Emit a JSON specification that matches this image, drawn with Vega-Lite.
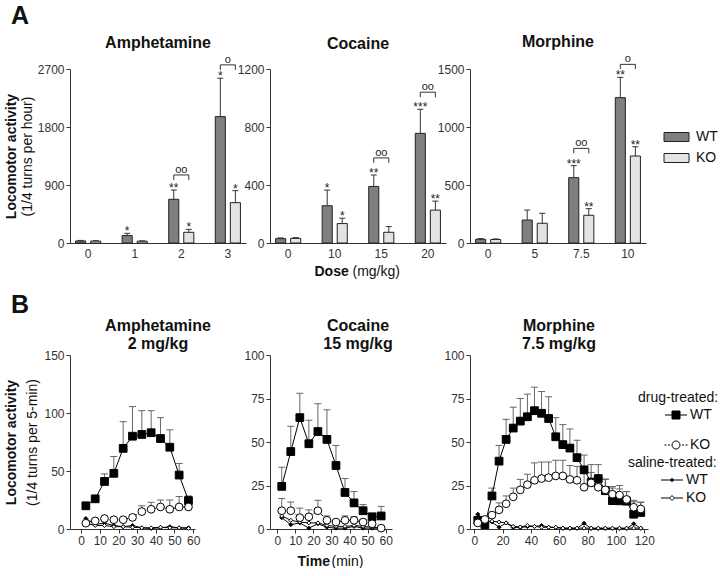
{
"$schema":"https://vega.github.io/schema/vega-lite/v6.json",
"background":"white",
"padding":{"left":4,"top":4,"right":0,"bottom":0},
"config":{"font":"Liberation Sans","view":{"stroke":null},
"axis":{"grid":false,"labelFontSize":12,"labelColor":"#333","titleColor":"#111","titleFontSize":14,"domainColor":"#333","tickColor":"#333","tickSize":4,"labelPadding":2},
"title":{"fontSize":16,"fontWeight":"bold","color":"#111"},
"legend":{"labelFontSize":14,"labelColor":"#111","titleFontSize":14,"titleFontWeight":"normal","titleColor":"#111","padding":0}},
"datasets":{
"bars":[
{"d":"Amph","dose":"0","g":"WT","v":32,"e":40,"sig":""},
{"d":"Amph","dose":"0","g":"KO","v":30,"e":36,"sig":""},
{"d":"Amph","dose":"1","g":"WT","v":115,"e":150,"sig":"*"},
{"d":"Amph","dose":"1","g":"KO","v":28,"e":33,"sig":""},
{"d":"Amph","dose":"2","g":"WT","v":678,"e":822,"sig":"**"},
{"d":"Amph","dose":"2","g":"KO","v":166,"e":212,"sig":"*"},
{"d":"Amph","dose":"3","g":"WT","v":1961,"e":2557,"sig":"*"},
{"d":"Amph","dose":"3","g":"KO","v":626,"e":812,"sig":"*"},
{"d":"Coc","dose":"0","g":"WT","v":30,"e":35,"sig":""},
{"d":"Coc","dose":"0","g":"KO","v":32,"e":37,"sig":""},
{"d":"Coc","dose":"10","g":"WT","v":257,"e":365,"sig":"*"},
{"d":"Coc","dose":"10","g":"KO","v":134,"e":171,"sig":"*"},
{"d":"Coc","dose":"15","g":"WT","v":390,"e":469,"sig":"**"},
{"d":"Coc","dose":"15","g":"KO","v":74,"e":113,"sig":""},
{"d":"Coc","dose":"20","g":"WT","v":756,"e":922,"sig":"***"},
{"d":"Coc","dose":"20","g":"KO","v":227,"e":289,"sig":"**"},
{"d":"Morph","dose":"0","g":"WT","v":32,"e":38,"sig":""},
{"d":"Morph","dose":"0","g":"KO","v":30,"e":35,"sig":""},
{"d":"Morph","dose":"5","g":"WT","v":198,"e":284,"sig":""},
{"d":"Morph","dose":"5","g":"KO","v":170,"e":256,"sig":""},
{"d":"Morph","dose":"7.5","g":"WT","v":563,"e":667,"sig":"***"},
{"d":"Morph","dose":"7.5","g":"KO","v":239,"e":296,"sig":"**"},
{"d":"Morph","dose":"10","g":"WT","v":1253,"e":1428,"sig":"**"},
{"d":"Morph","dose":"10","g":"KO","v":750,"e":830,"sig":"**"}
],
"brk":[
{"d":"Amph","dose":"2","g":"WT","y":978,"o":1},{"d":"Amph","dose":"2","g":"WT","y":1056,"o":2},{"d":"Amph","dose":"2","g":"KO","y":1056,"o":3},{"d":"Amph","dose":"2","g":"KO","y":978,"o":4},
{"d":"Amph","dose":"3","g":"WT","y":2686,"o":1},{"d":"Amph","dose":"3","g":"WT","y":2764,"o":2},{"d":"Amph","dose":"3","g":"KO","y":2764,"o":3},{"d":"Amph","dose":"3","g":"KO","y":2686,"o":4},
{"d":"Coc","dose":"15","g":"WT","y":553,"o":1},{"d":"Coc","dose":"15","g":"WT","y":587,"o":2},{"d":"Coc","dose":"15","g":"KO","y":587,"o":3},{"d":"Coc","dose":"15","g":"KO","y":553,"o":4},
{"d":"Coc","dose":"20","g":"WT","y":1005,"o":1},{"d":"Coc","dose":"20","g":"WT","y":1040,"o":2},{"d":"Coc","dose":"20","g":"KO","y":1040,"o":3},{"d":"Coc","dose":"20","g":"KO","y":1005,"o":4},
{"d":"Morph","dose":"7.5","g":"WT","y":773,"o":1},{"d":"Morph","dose":"7.5","g":"WT","y":816,"o":2},{"d":"Morph","dose":"7.5","g":"KO","y":816,"o":3},{"d":"Morph","dose":"7.5","g":"KO","y":773,"o":4},
{"d":"Morph","dose":"10","g":"WT","y":1500,"o":1},{"d":"Morph","dose":"10","g":"WT","y":1540,"o":2},{"d":"Morph","dose":"10","g":"KO","y":1540,"o":3},{"d":"Morph","dose":"10","g":"KO","y":1500,"o":4}
],
"brl":[
{"d":"Amph","dose":"2","y":1056,"lab":"oo"},{"d":"Amph","dose":"3","y":2764,"lab":"o"},
{"d":"Coc","dose":"15","y":587,"lab":"oo"},{"d":"Coc","dose":"20","y":1040,"lab":"oo"},
{"d":"Morph","dose":"7.5","y":816,"lab":"oo"},{"d":"Morph","dose":"10","y":1540,"lab":"o"}
],
"tc":[
{"d":"Amph","t":2.5,"s":"dWT","g":"WT","v":20,"e":22},{"d":"Amph","t":7.5,"s":"dWT","g":"WT","v":26,"e":28},{"d":"Amph","t":12.5,"s":"dWT","g":"WT","v":41,"e":47.5},{"d":"Amph","t":17.5,"s":"dWT","g":"WT","v":48,"e":62.5},{"d":"Amph","t":22.5,"s":"dWT","g":"WT","v":69.5,"e":92.5},{"d":"Amph","t":27.5,"s":"dWT","g":"WT","v":80,"e":105.5},{"d":"Amph","t":32.5,"s":"dWT","g":"WT","v":81.5,"e":102},{"d":"Amph","t":37.5,"s":"dWT","g":"WT","v":83,"e":102},{"d":"Amph","t":42.5,"s":"dWT","g":"WT","v":78,"e":96},{"d":"Amph","t":47.5,"s":"dWT","g":"WT","v":70.5,"e":85.5},{"d":"Amph","t":52.5,"s":"dWT","g":"WT","v":46.5,"e":56.5},{"d":"Amph","t":57.5,"s":"dWT","g":"WT","v":24.5,"e":28.5},
{"d":"Amph","t":2.5,"s":"dKO","g":"KO","v":5,"e":6},{"d":"Amph","t":7.5,"s":"dKO","g":"KO","v":7,"e":8},{"d":"Amph","t":12.5,"s":"dKO","g":"KO","v":9,"e":10},{"d":"Amph","t":17.5,"s":"dKO","g":"KO","v":8,"e":9},{"d":"Amph","t":22.5,"s":"dKO","g":"KO","v":8,"e":9},{"d":"Amph","t":27.5,"s":"dKO","g":"KO","v":10,"e":12},{"d":"Amph","t":32.5,"s":"dKO","g":"KO","v":15,"e":20},{"d":"Amph","t":37.5,"s":"dKO","g":"KO","v":17,"e":23},{"d":"Amph","t":42.5,"s":"dKO","g":"KO","v":19,"e":25},{"d":"Amph","t":47.5,"s":"dKO","g":"KO","v":17,"e":25},{"d":"Amph","t":52.5,"s":"dKO","g":"KO","v":19,"e":28},{"d":"Amph","t":57.5,"s":"dKO","g":"KO","v":19,"e":28},
{"d":"Amph","t":2.5,"s":"sWT","g":"WT","v":9},{"d":"Amph","t":7.5,"s":"sWT","g":"WT","v":4},{"d":"Amph","t":12.5,"s":"sWT","g":"WT","v":5},{"d":"Amph","t":17.5,"s":"sWT","g":"WT","v":3},{"d":"Amph","t":22.5,"s":"sWT","g":"WT","v":2},{"d":"Amph","t":27.5,"s":"sWT","g":"WT","v":3},{"d":"Amph","t":32.5,"s":"sWT","g":"WT","v":1},{"d":"Amph","t":37.5,"s":"sWT","g":"WT","v":0.5},{"d":"Amph","t":42.5,"s":"sWT","g":"WT","v":1},{"d":"Amph","t":47.5,"s":"sWT","g":"WT","v":2},{"d":"Amph","t":52.5,"s":"sWT","g":"WT","v":1},{"d":"Amph","t":57.5,"s":"sWT","g":"WT","v":1},
{"d":"Amph","t":2.5,"s":"sKO","g":"KO","v":5},{"d":"Amph","t":7.5,"s":"sKO","g":"KO","v":3},{"d":"Amph","t":12.5,"s":"sKO","g":"KO","v":3},{"d":"Amph","t":17.5,"s":"sKO","g":"KO","v":2},{"d":"Amph","t":22.5,"s":"sKO","g":"KO","v":2},{"d":"Amph","t":27.5,"s":"sKO","g":"KO","v":1.5},{"d":"Amph","t":32.5,"s":"sKO","g":"KO","v":1},{"d":"Amph","t":37.5,"s":"sKO","g":"KO","v":1},{"d":"Amph","t":42.5,"s":"sKO","g":"KO","v":1.5},{"d":"Amph","t":47.5,"s":"sKO","g":"KO","v":1},{"d":"Amph","t":52.5,"s":"sKO","g":"KO","v":1},{"d":"Amph","t":57.5,"s":"sKO","g":"KO","v":0.5},
{"d":"Coc","t":2.5,"s":"dWT","g":"WT","v":24.5,"e":35.5},{"d":"Coc","t":7.5,"s":"dWT","g":"WT","v":44.5,"e":59},{"d":"Coc","t":12.5,"s":"dWT","g":"WT","v":64,"e":78},{"d":"Coc","t":17.5,"s":"dWT","g":"WT","v":49,"e":62.5},{"d":"Coc","t":22.5,"s":"dWT","g":"WT","v":56,"e":72},{"d":"Coc","t":27.5,"s":"dWT","g":"WT","v":51.5,"e":68.5},{"d":"Coc","t":32.5,"s":"dWT","g":"WT","v":36.5,"e":48},{"d":"Coc","t":37.5,"s":"dWT","g":"WT","v":21,"e":29},{"d":"Coc","t":42.5,"s":"dWT","g":"WT","v":15,"e":21.5},{"d":"Coc","t":47.5,"s":"dWT","g":"WT","v":10.5,"e":14},{"d":"Coc","t":52.5,"s":"dWT","g":"WT","v":7,"e":9},{"d":"Coc","t":57.5,"s":"dWT","g":"WT","v":7.5,"e":13},
{"d":"Coc","t":2.5,"s":"dKO","g":"KO","v":10.5,"e":17.5},{"d":"Coc","t":7.5,"s":"dKO","g":"KO","v":10.5,"e":15.5},{"d":"Coc","t":12.5,"s":"dKO","g":"KO","v":6.5,"e":12},{"d":"Coc","t":17.5,"s":"dKO","g":"KO","v":7,"e":11},{"d":"Coc","t":22.5,"s":"dKO","g":"KO","v":10.5,"e":16.5},{"d":"Coc","t":27.5,"s":"dKO","g":"KO","v":5,"e":7.5},{"d":"Coc","t":32.5,"s":"dKO","g":"KO","v":4,"e":4.5},{"d":"Coc","t":37.5,"s":"dKO","g":"KO","v":5,"e":7.5},{"d":"Coc","t":42.5,"s":"dKO","g":"KO","v":5,"e":7},{"d":"Coc","t":47.5,"s":"dKO","g":"KO","v":4,"e":5.5},{"d":"Coc","t":52.5,"s":"dKO","g":"KO","v":3,"e":4},{"d":"Coc","t":57.5,"s":"dKO","g":"KO","v":0.5,"e":1},
{"d":"Coc","t":2.5,"s":"sWT","g":"WT","v":6.5},{"d":"Coc","t":7.5,"s":"sWT","g":"WT","v":2.5},{"d":"Coc","t":12.5,"s":"sWT","g":"WT","v":3.5},{"d":"Coc","t":17.5,"s":"sWT","g":"WT","v":0.5},{"d":"Coc","t":22.5,"s":"sWT","g":"WT","v":3},{"d":"Coc","t":27.5,"s":"sWT","g":"WT","v":1},{"d":"Coc","t":32.5,"s":"sWT","g":"WT","v":0.5},{"d":"Coc","t":37.5,"s":"sWT","g":"WT","v":0.5},{"d":"Coc","t":42.5,"s":"sWT","g":"WT","v":1.5},{"d":"Coc","t":47.5,"s":"sWT","g":"WT","v":0.5},{"d":"Coc","t":52.5,"s":"sWT","g":"WT","v":0.5},{"d":"Coc","t":57.5,"s":"sWT","g":"WT","v":0.5},
{"d":"Coc","t":2.5,"s":"sKO","g":"KO","v":7.5},{"d":"Coc","t":7.5,"s":"sKO","g":"KO","v":5},{"d":"Coc","t":12.5,"s":"sKO","g":"KO","v":4},{"d":"Coc","t":17.5,"s":"sKO","g":"KO","v":3.5},{"d":"Coc","t":22.5,"s":"sKO","g":"KO","v":3.5},{"d":"Coc","t":27.5,"s":"sKO","g":"KO","v":2},{"d":"Coc","t":32.5,"s":"sKO","g":"KO","v":1.5},{"d":"Coc","t":37.5,"s":"sKO","g":"KO","v":1.5},{"d":"Coc","t":42.5,"s":"sKO","g":"KO","v":2},{"d":"Coc","t":47.5,"s":"sKO","g":"KO","v":1.5},{"d":"Coc","t":52.5,"s":"sKO","g":"KO","v":1},{"d":"Coc","t":57.5,"s":"sKO","g":"KO","v":0.5},
{"d":"Morph","t":2.5,"s":"dWT","g":"WT","v":5,"e":7},{"d":"Morph","t":7.5,"s":"dWT","g":"WT","v":2.5,"e":4},{"d":"Morph","t":12.5,"s":"dWT","g":"WT","v":19,"e":23.5},{"d":"Morph","t":17.5,"s":"dWT","g":"WT","v":39,"e":48},{"d":"Morph","t":22.5,"s":"dWT","g":"WT","v":51.5,"e":63},{"d":"Morph","t":27.5,"s":"dWT","g":"WT","v":58,"e":70},{"d":"Morph","t":32.5,"s":"dWT","g":"WT","v":62,"e":75},{"d":"Morph","t":37.5,"s":"dWT","g":"WT","v":64.5,"e":77.5},{"d":"Morph","t":42.5,"s":"dWT","g":"WT","v":68,"e":81.5},{"d":"Morph","t":47.5,"s":"dWT","g":"WT","v":66.5,"e":79},{"d":"Morph","t":52.5,"s":"dWT","g":"WT","v":63.5,"e":76},{"d":"Morph","t":57.5,"s":"dWT","g":"WT","v":53,"e":64},{"d":"Morph","t":62.5,"s":"dWT","g":"WT","v":48.5,"e":60},{"d":"Morph","t":67.5,"s":"dWT","g":"WT","v":46.5,"e":57.5},{"d":"Morph","t":72.5,"s":"dWT","g":"WT","v":41,"e":51},{"d":"Morph","t":77.5,"s":"dWT","g":"WT","v":34,"e":42.5},{"d":"Morph","t":82.5,"s":"dWT","g":"WT","v":27,"e":37},{"d":"Morph","t":87.5,"s":"dWT","g":"WT","v":29,"e":37},{"d":"Morph","t":92.5,"s":"dWT","g":"WT","v":22,"e":28.7},{"d":"Morph","t":97.5,"s":"dWT","g":"WT","v":16.3,"e":24.4},{"d":"Morph","t":102.5,"s":"dWT","g":"WT","v":16.2,"e":23},{"d":"Morph","t":107.5,"s":"dWT","g":"WT","v":16,"e":21.5},{"d":"Morph","t":112.5,"s":"dWT","g":"WT","v":8.5,"e":15.7},{"d":"Morph","t":117.5,"s":"dWT","g":"WT","v":9.5,"e":15.2},
{"d":"Morph","t":2.5,"s":"dKO","g":"KO","v":3.5,"e":4},{"d":"Morph","t":7.5,"s":"dKO","g":"KO","v":5.5,"e":6},{"d":"Morph","t":12.5,"s":"dKO","g":"KO","v":8,"e":9},{"d":"Morph","t":17.5,"s":"dKO","g":"KO","v":11,"e":15},{"d":"Morph","t":22.5,"s":"dKO","g":"KO","v":14.5,"e":19},{"d":"Morph","t":27.5,"s":"dKO","g":"KO","v":18.5,"e":23.5},{"d":"Morph","t":32.5,"s":"dKO","g":"KO","v":22.5,"e":28.5},{"d":"Morph","t":37.5,"s":"dKO","g":"KO","v":25.5,"e":31.5},{"d":"Morph","t":42.5,"s":"dKO","g":"KO","v":28,"e":38},{"d":"Morph","t":47.5,"s":"dKO","g":"KO","v":29,"e":38.5},{"d":"Morph","t":52.5,"s":"dKO","g":"KO","v":29.5,"e":38.5},{"d":"Morph","t":57.5,"s":"dKO","g":"KO","v":30.5,"e":39.5},{"d":"Morph","t":62.5,"s":"dKO","g":"KO","v":30.5,"e":39.5},{"d":"Morph","t":67.5,"s":"dKO","g":"KO","v":28.5,"e":36.5},{"d":"Morph","t":72.5,"s":"dKO","g":"KO","v":28,"e":36},{"d":"Morph","t":77.5,"s":"dKO","g":"KO","v":24,"e":32},{"d":"Morph","t":82.5,"s":"dKO","g":"KO","v":26.5,"e":32.5},{"d":"Morph","t":87.5,"s":"dKO","g":"KO","v":24,"e":30.5},{"d":"Morph","t":92.5,"s":"dKO","g":"KO","v":22.5,"e":28.5},{"d":"Morph","t":97.5,"s":"dKO","g":"KO","v":20,"e":23.5},{"d":"Morph","t":102.5,"s":"dKO","g":"KO","v":19.5,"e":25},{"d":"Morph","t":107.5,"s":"dKO","g":"KO","v":17,"e":21.5},{"d":"Morph","t":112.5,"s":"dKO","g":"KO","v":12.5,"e":16.5},{"d":"Morph","t":117.5,"s":"dKO","g":"KO","v":11.5,"e":15.5},
{"d":"Morph","t":2.5,"s":"sWT","g":"WT","v":8.5},{"d":"Morph","t":7.5,"s":"sWT","g":"WT","v":5},{"d":"Morph","t":12.5,"s":"sWT","g":"WT","v":4},{"d":"Morph","t":17.5,"s":"sWT","g":"WT","v":1},{"d":"Morph","t":22.5,"s":"sWT","g":"WT","v":3.5},{"d":"Morph","t":27.5,"s":"sWT","g":"WT","v":0.8},{"d":"Morph","t":32.5,"s":"sWT","g":"WT","v":0.8},{"d":"Morph","t":37.5,"s":"sWT","g":"WT","v":1.4},{"d":"Morph","t":42.5,"s":"sWT","g":"WT","v":1.4},{"d":"Morph","t":47.5,"s":"sWT","g":"WT","v":2},{"d":"Morph","t":52.5,"s":"sWT","g":"WT","v":1},{"d":"Morph","t":57.5,"s":"sWT","g":"WT","v":0.8},{"d":"Morph","t":62.5,"s":"sWT","g":"WT","v":0.4},{"d":"Morph","t":67.5,"s":"sWT","g":"WT","v":0.4},{"d":"Morph","t":72.5,"s":"sWT","g":"WT","v":0.4},{"d":"Morph","t":77.5,"s":"sWT","g":"WT","v":3.3},{"d":"Morph","t":82.5,"s":"sWT","g":"WT","v":0.3},{"d":"Morph","t":87.5,"s":"sWT","g":"WT","v":0.3},{"d":"Morph","t":92.5,"s":"sWT","g":"WT","v":0.3},{"d":"Morph","t":97.5,"s":"sWT","g":"WT","v":0.3},{"d":"Morph","t":102.5,"s":"sWT","g":"WT","v":0.3},{"d":"Morph","t":107.5,"s":"sWT","g":"WT","v":0.3},{"d":"Morph","t":112.5,"s":"sWT","g":"WT","v":3},{"d":"Morph","t":117.5,"s":"sWT","g":"WT","v":0.4},
{"d":"Morph","t":2.5,"s":"sKO","g":"KO","v":4},{"d":"Morph","t":7.5,"s":"sKO","g":"KO","v":4},{"d":"Morph","t":12.5,"s":"sKO","g":"KO","v":4.5},{"d":"Morph","t":17.5,"s":"sKO","g":"KO","v":4},{"d":"Morph","t":22.5,"s":"sKO","g":"KO","v":3.5},{"d":"Morph","t":27.5,"s":"sKO","g":"KO","v":1.5},{"d":"Morph","t":32.5,"s":"sKO","g":"KO","v":1.2},{"d":"Morph","t":37.5,"s":"sKO","g":"KO","v":2},{"d":"Morph","t":42.5,"s":"sKO","g":"KO","v":1.5},{"d":"Morph","t":47.5,"s":"sKO","g":"KO","v":1},{"d":"Morph","t":52.5,"s":"sKO","g":"KO","v":1},{"d":"Morph","t":57.5,"s":"sKO","g":"KO","v":1},{"d":"Morph","t":62.5,"s":"sKO","g":"KO","v":0.5},{"d":"Morph","t":67.5,"s":"sKO","g":"KO","v":0.5},{"d":"Morph","t":72.5,"s":"sKO","g":"KO","v":0.5},{"d":"Morph","t":77.5,"s":"sKO","g":"KO","v":0.5},{"d":"Morph","t":82.5,"s":"sKO","g":"KO","v":0.5},{"d":"Morph","t":87.5,"s":"sKO","g":"KO","v":0.5},{"d":"Morph","t":92.5,"s":"sKO","g":"KO","v":0.5},{"d":"Morph","t":97.5,"s":"sKO","g":"KO","v":0.5},{"d":"Morph","t":102.5,"s":"sKO","g":"KO","v":0.5},{"d":"Morph","t":107.5,"s":"sKO","g":"KO","v":0.5},{"d":"Morph","t":112.5,"s":"sKO","g":"KO","v":0.5},{"d":"Morph","t":117.5,"s":"sKO","g":"KO","v":0.5}
]},
"vconcat":[
{"title":{"text":"A","anchor":"start","fontSize":25,"fontWeight":"bold","offset":5,"frame":"bounds","dx":7},
"hconcat":[
{"width":176,"height":174,"title":{"text":"Amphetamine","offset":3},
"layer":[
{"data":{"name":"bars"},"transform":[{"filter":"datum.d==='Amph'"}],"mark":{"type":"bar","stroke":"#222","strokeWidth":1},
"encoding":{"x":{"field":"dose","type":"nominal","scale":{"domain":["0","1","2","3"],"paddingInner":0.46,"paddingOuter":0.12},"axis":{"title":null,"labelAngle":0,"ticks":false,"labelPadding":5}},
"xOffset":{"field":"g","type":"nominal","scale":{"domain":["WT","KO"],"paddingInner":0.33,"paddingOuter":0}},
"y":{"field":"v","type":"quantitative","stack":null,"scale":{"domain":[0,2700],"nice":false},"axis":{"values":[0,900,1800,2700],"format":"d","title":"(1/4 turns per hour)","titleFontWeight":"normal","titlePadding":3}},
"fill":{"field":"g","type":"nominal","scale":{"domain":["WT","KO"],"range":["#7f7f7f","#e3e3e3"]},"legend":{"title":null,"orient":"none","legendX":592,"legendY":61,"symbolType":"M-2.5,-0.9H2.5V0.9H-2.5Z","symbolSize":100,"symbolOffset":7.5,"labelOffset":12.5,"rowPadding":7,"symbolStrokeColor":"#222","symbolStrokeWidth":1,"symbolOpacity":1}}}},
{"data":{"name":"bars"},"transform":[{"filter":"datum.d==='Amph'"}],"mark":{"type":"rule","color":"#333"},
"encoding":{"x":{"field":"dose","type":"nominal","axis":null},"xOffset":{"field":"g","type":"nominal"},"y":{"field":"v","type":"quantitative","axis":{"orient":"left","title":"Locomotor activity","labels":false,"ticks":false,"domain":false,"titlePadding":52,"titleFontWeight":"bold"}},"y2":{"field":"e"}}},
{"data":{"name":"bars"},"transform":[{"filter":"datum.d==='Amph'"}],"mark":{"type":"point","shape":"stroke","size":36,"color":"#333","filled":false,"opacity":1,"strokeWidth":1},
"encoding":{"x":{"field":"dose","type":"nominal","axis":null},"xOffset":{"field":"g","type":"nominal"},"y":{"field":"e","type":"quantitative","axis":null}}},
{"data":{"name":"bars"},"transform":[{"filter":"datum.d==='Amph'"}],"mark":{"type":"text","fontSize":12,"baseline":"alphabetic","dy":2,"fill":"#222"},
"encoding":{"x":{"field":"dose","type":"nominal","axis":null},"xOffset":{"field":"g","type":"nominal"},"y":{"field":"e","type":"quantitative","axis":null},"text":{"field":"sig"}}},
{"data":{"name":"brk"},"transform":[{"filter":"datum.d==='Amph'"}],"mark":{"type":"line","color":"#333","strokeWidth":1},
"encoding":{"x":{"field":"dose","type":"nominal","axis":null},"xOffset":{"field":"g","type":"nominal"},"y":{"field":"y","type":"quantitative","axis":null},"order":{"field":"o","type":"quantitative"},"detail":{"field":"dose"}}},
{"data":{"name":"brl"},"transform":[{"filter":"datum.d==='Amph'"}],"mark":{"type":"text","fontSize":11,"baseline":"alphabetic","dy":-2,"fill":"#222"},
"encoding":{"x":{"field":"dose","type":"nominal","axis":null},"y":{"field":"y","type":"quantitative","axis":null},"text":{"field":"lab"}}}
],
"resolve":{"axis":{"x":"independent","y":"independent"}}},
{"width":176,"height":174,"title":{"text":"Cocaine","offset":11},
"layer":[
{"data":{"name":"bars"},"transform":[{"filter":"datum.d==='Coc'"}],"mark":{"type":"bar","stroke":"#222","strokeWidth":1},
"encoding":{"x":{"field":"dose","type":"nominal","scale":{"domain":["0","10","15","20"],"paddingInner":0.46,"paddingOuter":0.12},"axis":{"title":"Dose","titleFontWeight":"bold","titleX":44,"titleY":21,"titleAlign":"left","titleBaseline":"top","labelAngle":0,"ticks":false,"labelPadding":5}},
"xOffset":{"field":"g","type":"nominal","scale":{"domain":["WT","KO"],"paddingInner":0.33,"paddingOuter":0}},
"y":{"field":"v","type":"quantitative","stack":null,"scale":{"domain":[0,1200],"nice":false},"axis":{"values":[0,400,800,1200],"format":"d","title":null}},
"fill":{"field":"g","type":"nominal","scale":{"domain":["WT","KO"],"range":["#7f7f7f","#e3e3e3"]},"legend":{"title":null,"orient":"none","legendX":592,"legendY":61,"symbolType":"M-2.5,-0.9H2.5V0.9H-2.5Z","symbolSize":100,"symbolOffset":7.5,"labelOffset":12.5,"rowPadding":7,"symbolStrokeColor":"#222","symbolStrokeWidth":1,"symbolOpacity":1}}}},
{"data":{"name":"bars"},"transform":[{"filter":"datum.d==='Coc'"}],"mark":{"type":"rule","color":"#333"},
"encoding":{"x":{"field":"dose","type":"nominal","axis":{"orient":"bottom","title":"(mg/kg)","titleFontWeight":"normal","titleX":82,"titleY":21,"titleAlign":"left","titleBaseline":"top","labels":false,"ticks":false,"domain":false}},"xOffset":{"field":"g","type":"nominal"},"y":{"field":"v","type":"quantitative","axis":null},"y2":{"field":"e"}}},
{"data":{"name":"bars"},"transform":[{"filter":"datum.d==='Coc'"}],"mark":{"type":"point","shape":"stroke","size":36,"color":"#333","filled":false,"opacity":1,"strokeWidth":1},
"encoding":{"x":{"field":"dose","type":"nominal","axis":null},"xOffset":{"field":"g","type":"nominal"},"y":{"field":"e","type":"quantitative","axis":null}}},
{"data":{"name":"bars"},"transform":[{"filter":"datum.d==='Coc'"}],"mark":{"type":"text","fontSize":12,"baseline":"alphabetic","dy":2,"fill":"#222"},
"encoding":{"x":{"field":"dose","type":"nominal","axis":null},"xOffset":{"field":"g","type":"nominal"},"y":{"field":"e","type":"quantitative","axis":null},"text":{"field":"sig"}}},
{"data":{"name":"brk"},"transform":[{"filter":"datum.d==='Coc'"}],"mark":{"type":"line","color":"#333","strokeWidth":1},
"encoding":{"x":{"field":"dose","type":"nominal","axis":null},"xOffset":{"field":"g","type":"nominal"},"y":{"field":"y","type":"quantitative","axis":null},"order":{"field":"o","type":"quantitative"},"detail":{"field":"dose"}}},
{"data":{"name":"brl"},"transform":[{"filter":"datum.d==='Coc'"}],"mark":{"type":"text","fontSize":11,"baseline":"alphabetic","dy":-2,"fill":"#222"},
"encoding":{"x":{"field":"dose","type":"nominal","axis":null},"y":{"field":"y","type":"quantitative","axis":null},"text":{"field":"lab"}}}
],
"resolve":{"axis":{"x":"independent","y":"independent"}}},
{"width":176,"height":174,"title":{"text":"Morphine","offset":3},
"layer":[
{"data":{"name":"bars"},"transform":[{"filter":"datum.d==='Morph'"}],"mark":{"type":"bar","stroke":"#222","strokeWidth":1},
"encoding":{"x":{"field":"dose","type":"nominal","scale":{"domain":["0","5","7.5","10"],"paddingInner":0.46,"paddingOuter":0.12},"axis":{"title":null,"labelAngle":0,"ticks":false,"labelPadding":5}},
"xOffset":{"field":"g","type":"nominal","scale":{"domain":["WT","KO"],"paddingInner":0.33,"paddingOuter":0}},
"y":{"field":"v","type":"quantitative","stack":null,"scale":{"domain":[0,1500],"nice":false},"axis":{"values":[0,500,1000,1500],"format":"d","title":null}},
"fill":{"field":"g","type":"nominal","scale":{"domain":["WT","KO"],"range":["#7f7f7f","#e3e3e3"]},"legend":{"title":null,"orient":"none","legendX":592,"legendY":61,"symbolType":"M-2.5,-0.9H2.5V0.9H-2.5Z","symbolSize":100,"symbolOffset":7.5,"labelOffset":12.5,"rowPadding":7,"symbolStrokeColor":"#222","symbolStrokeWidth":1,"symbolOpacity":1}}}},
{"data":{"name":"bars"},"transform":[{"filter":"datum.d==='Morph'"}],"mark":{"type":"rule","color":"#333"},
"encoding":{"x":{"field":"dose","type":"nominal","axis":null},"xOffset":{"field":"g","type":"nominal"},"y":{"field":"v","type":"quantitative","axis":null},"y2":{"field":"e"}}},
{"data":{"name":"bars"},"transform":[{"filter":"datum.d==='Morph'"}],"mark":{"type":"point","shape":"stroke","size":36,"color":"#333","filled":false,"opacity":1,"strokeWidth":1},
"encoding":{"x":{"field":"dose","type":"nominal","axis":null},"xOffset":{"field":"g","type":"nominal"},"y":{"field":"e","type":"quantitative","axis":null}}},
{"data":{"name":"bars"},"transform":[{"filter":"datum.d==='Morph'"}],"mark":{"type":"text","fontSize":12,"baseline":"alphabetic","dy":2,"fill":"#222"},
"encoding":{"x":{"field":"dose","type":"nominal","axis":null},"xOffset":{"field":"g","type":"nominal"},"y":{"field":"e","type":"quantitative","axis":null},"text":{"field":"sig"}}},
{"data":{"name":"brk"},"transform":[{"filter":"datum.d==='Morph'"}],"mark":{"type":"line","color":"#333","strokeWidth":1},
"encoding":{"x":{"field":"dose","type":"nominal","axis":null},"xOffset":{"field":"g","type":"nominal"},"y":{"field":"y","type":"quantitative","axis":null},"order":{"field":"o","type":"quantitative"},"detail":{"field":"dose"}}},
{"data":{"name":"brl"},"transform":[{"filter":"datum.d==='Morph'"}],"mark":{"type":"text","fontSize":11,"baseline":"alphabetic","dy":-2,"fill":"#222"},
"encoding":{"x":{"field":"dose","type":"nominal","axis":null},"y":{"field":"y","type":"quantitative","axis":null},"text":{"field":"lab"}}}
],
"resolve":{"axis":{"x":"independent","y":"independent"}}}
],
"spacing":24,"bounds":"flush"},
{"title":{"text":"B","anchor":"start","fontSize":25,"fontWeight":"bold","offset":0,"frame":"bounds","dx":7},
"hconcat":[
{"width":176,"height":174,"title":{"text":["Amphetamine","2 mg/kg"],"offset":-3,"lineHeight":18},
"data":{"name":"tc"},"transform":[{"filter":"datum.d==='Amph'"}],
"layer":[
{"transform":[{"filter":"datum.s[0]==='d'"}],"mark":{"type":"rule","color":"#666","strokeWidth":1},
"encoding":{"x":{"field":"t","type":"quantitative","scale":{"domain":[-6,61],"range":[0,125],"nice":false,"zero":false},"axis":{"values":[0,10,20,30,40,50,60],"title":null}},
"y":{"field":"v","type":"quantitative","scale":{"domain":[0,150],"nice":false},"axis":{"values":[0,50,100,150],"title":"(1/4 turns per 5-min)","titleFontWeight":"normal","titlePadding":4}},"y2":{"field":"e"}}},
{"transform":[{"filter":"datum.s[0]==='d'"}],"mark":{"type":"point","shape":"stroke","size":49,"color":"#666","filled":false,"opacity":1,"strokeWidth":1},
"encoding":{"x":{"field":"t","type":"quantitative","axis":null},"y":{"field":"e","type":"quantitative","axis":{"orient":"left","title":"Locomotor activity","labels":false,"ticks":false,"domain":false,"titlePadding":52,"titleFontWeight":"bold"}}}},
{"transform":[{"filter":"datum.s!=='dKO'"}],"mark":{"type":"line","color":"black","strokeWidth":1},
"encoding":{"x":{"field":"t","type":"quantitative","axis":null},"y":{"field":"v","type":"quantitative","axis":null},"detail":{"field":"s"}}},
{"transform":[{"filter":"datum.s==='dKO'"}],"mark":{"type":"line","color":"black","strokeWidth":1,"strokeDash":[3,2]},
"encoding":{"x":{"field":"t","type":"quantitative","axis":null},"y":{"field":"v","type":"quantitative","axis":null}}},
{"transform":[{"filter":"datum.s[0]==='s'"}],"mark":{"type":"point","shape":"diamond","size":16,"filled":true,"stroke":"black","strokeWidth":1,"opacity":1},
"encoding":{"x":{"field":"t","type":"quantitative","axis":null},"y":{"field":"v","type":"quantitative","axis":null},"fill":{"field":"g","type":"nominal","scale":{"domain":["WT","KO"],"range":["black","white"]},"legend":null}}},
{"transform":[{"filter":"datum.s[0]==='d'"}],"mark":{"type":"point","size":60,"filled":true,"stroke":"black","strokeWidth":1,"opacity":1},
"encoding":{"x":{"field":"t","type":"quantitative","axis":null},"y":{"field":"v","type":"quantitative","axis":null},"shape":{"field":"s","type":"nominal","scale":{"domain":["dWT","dKO"],"range":["square","circle"]},"legend":null},"fill":{"field":"g","type":"nominal","scale":{"domain":["WT","KO"],"range":["black","white"]},"legend":null}}}
],
"resolve":{"axis":{"x":"independent","y":"independent"},"scale":{"fill":"independent","shape":"independent"}}},
{"width":176,"height":174,"title":{"text":["Cocaine","15 mg/kg"],"offset":-3,"lineHeight":18},
"data":{"name":"tc"},"transform":[{"filter":"datum.d==='Coc'"}],
"layer":[
{"transform":[{"filter":"datum.s[0]==='d'"}],"mark":{"type":"rule","color":"#666","strokeWidth":1},
"encoding":{"x":{"field":"t","type":"quantitative","scale":{"domain":[-4,63.5],"range":[0,122],"nice":false,"zero":false},"axis":{"values":[0,10,20,30,40,50,60],"title":"Time","titleFontWeight":"bold","titleX":27,"titleY":25,"titleAlign":"left","titleBaseline":"top"}},
"y":{"field":"v","type":"quantitative","scale":{"domain":[0,100],"nice":false},"axis":{"values":[0,25,50,75,100],"title":null}},"y2":{"field":"e"}}},
{"transform":[{"filter":"datum.s[0]==='d'"}],"mark":{"type":"point","shape":"stroke","size":49,"color":"#666","filled":false,"opacity":1,"strokeWidth":1},
"encoding":{"x":{"field":"t","type":"quantitative","axis":{"orient":"bottom","title":"(min)","titleFontWeight":"normal","titleX":61,"titleY":25,"titleAlign":"left","titleBaseline":"top","labels":false,"ticks":false,"domain":false}},"y":{"field":"e","type":"quantitative","axis":null}}},
{"transform":[{"filter":"datum.s!=='dKO'"}],"mark":{"type":"line","color":"black","strokeWidth":1},
"encoding":{"x":{"field":"t","type":"quantitative","axis":null},"y":{"field":"v","type":"quantitative","axis":null},"detail":{"field":"s"}}},
{"transform":[{"filter":"datum.s==='dKO'"}],"mark":{"type":"line","color":"black","strokeWidth":1,"strokeDash":[3,2]},
"encoding":{"x":{"field":"t","type":"quantitative","axis":null},"y":{"field":"v","type":"quantitative","axis":null}}},
{"transform":[{"filter":"datum.s[0]==='s'"}],"mark":{"type":"point","shape":"diamond","size":16,"filled":true,"stroke":"black","strokeWidth":1,"opacity":1},
"encoding":{"x":{"field":"t","type":"quantitative","axis":null},"y":{"field":"v","type":"quantitative","axis":null},"fill":{"field":"g","type":"nominal","scale":{"domain":["WT","KO"],"range":["black","white"]},"legend":null}}},
{"transform":[{"filter":"datum.s[0]==='d'"}],"mark":{"type":"point","size":60,"filled":true,"stroke":"black","strokeWidth":1,"opacity":1},
"encoding":{"x":{"field":"t","type":"quantitative","axis":null},"y":{"field":"v","type":"quantitative","axis":null},"shape":{"field":"s","type":"nominal","scale":{"domain":["dWT","dKO"],"range":["square","circle"]},"legend":null},"fill":{"field":"g","type":"nominal","scale":{"domain":["WT","KO"],"range":["black","white"]},"legend":null}}}
],
"resolve":{"axis":{"x":"independent","y":"independent"},"scale":{"fill":"independent","shape":"independent"}}},
{"width":178,"height":174,"title":{"text":["Morphine","7.5 mg/kg"],"offset":-3,"lineHeight":18},
"data":{"name":"tc"},"transform":[{"filter":"datum.d==='Morph'"}],
"layer":[
{"transform":[{"filter":"datum.s[0]==='d'"}],"mark":{"type":"rule","color":"#666","strokeWidth":1},
"encoding":{"x":{"field":"t","type":"quantitative","scale":{"domain":[-3,122.6],"nice":false,"zero":false},"axis":{"values":[0,20,40,60,80,100,120],"title":null}},
"y":{"field":"v","type":"quantitative","scale":{"domain":[0,100],"nice":false},"axis":{"values":[0,25,50,75,100],"title":null}},"y2":{"field":"e"}}},
{"transform":[{"filter":"datum.s[0]==='d'"}],"mark":{"type":"point","shape":"stroke","size":49,"color":"#666","filled":false,"opacity":1,"strokeWidth":1},
"encoding":{"x":{"field":"t","type":"quantitative","axis":null},"y":{"field":"e","type":"quantitative","axis":null}}},
{"transform":[{"filter":"datum.s!=='dKO'"}],"mark":{"type":"line","color":"black","strokeWidth":1},
"encoding":{"x":{"field":"t","type":"quantitative","axis":null},"y":{"field":"v","type":"quantitative","axis":null},"detail":{"field":"s"}}},
{"transform":[{"filter":"datum.s==='dKO'"}],"mark":{"type":"line","color":"black","strokeWidth":1,"strokeDash":[3,2]},
"encoding":{"x":{"field":"t","type":"quantitative","axis":null},"y":{"field":"v","type":"quantitative","axis":null}}},
{"transform":[{"filter":"datum.s[0]==='s'"}],"mark":{"type":"point","shape":"diamond","size":16,"filled":true,"stroke":"black","strokeWidth":1,"opacity":1},
"encoding":{"x":{"field":"t","type":"quantitative","axis":null},"y":{"field":"v","type":"quantitative","axis":null},
"fill":{"field":"g","type":"nominal","scale":{"domain":["WT","KO"],"range":["black","white"]},"legend":{"title":"saline-treated:","orient":"none","legendX":158,"legendY":101,"symbolSize":100,"symbolOffset":37,"labelOffset":7,"rowPadding":4,"titlePadding":3,"symbolStrokeColor":"black","symbolStrokeWidth":1,"symbolOpacity":1,"encode":{"symbols":{"update":{"shape":{"signal":"datum.value==='WT' ? 'M-2.2,0H-0.35M0.35,0H2.2M-0.35,0L0,-0.35L0.35,0L0,0.35Z' : 'M-2.2,0H-0.5M0.5,0H2.2M-0.5,0L0,-0.5L0.5,0L0,0.5Z'"}}}}}}}},
{"transform":[{"filter":"datum.s[0]==='d'"}],"mark":{"type":"point","size":60,"filled":true,"stroke":"black","strokeWidth":1,"opacity":1},
"encoding":{"x":{"field":"t","type":"quantitative","axis":null},"y":{"field":"v","type":"quantitative","axis":null},
"shape":{"field":"s","type":"nominal","scale":{"domain":["dWT","dKO"],"range":["square","circle"]},"legend":null},
"fill":{"field":"g","type":"nominal","scale":{"domain":["WT","KO"],"range":["black","white"]},"legend":{"title":"drug-treated:","orient":"none","legendX":168,"legendY":36,"symbolSize":100,"symbolOffset":31,"labelOffset":7,"rowPadding":16,"titlePadding":3,"symbolStrokeColor":"black","symbolStrokeWidth":1,"symbolOpacity":1,"encode":{"symbols":{"update":{"shape":{"signal":"datum.value==='WT' ? 'M-2.2,0H-0.8M0.8,0H2.2M-0.8,-0.8H0.8V0.8H-0.8Z' : 'M-2.3,0H-1.9M-1.6,0H-1.2M1.2,0H1.6M1.9,0H2.3M-0.8,0A0.8,0.8 0 1,0 0.8,0A0.8,0.8 0 1,0 -0.8,0Z'"}}}}}}}}
],
"resolve":{"axis":{"x":"independent","y":"independent"},"scale":{"fill":"independent","shape":"independent"}}}
],
"spacing":24,"bounds":"flush","resolve":{"scale":{"fill":"independent","shape":"independent"}}}
],
"spacing":15,
"resolve":{"scale":{"fill":"independent","shape":"independent","xOffset":"independent"}}
}
